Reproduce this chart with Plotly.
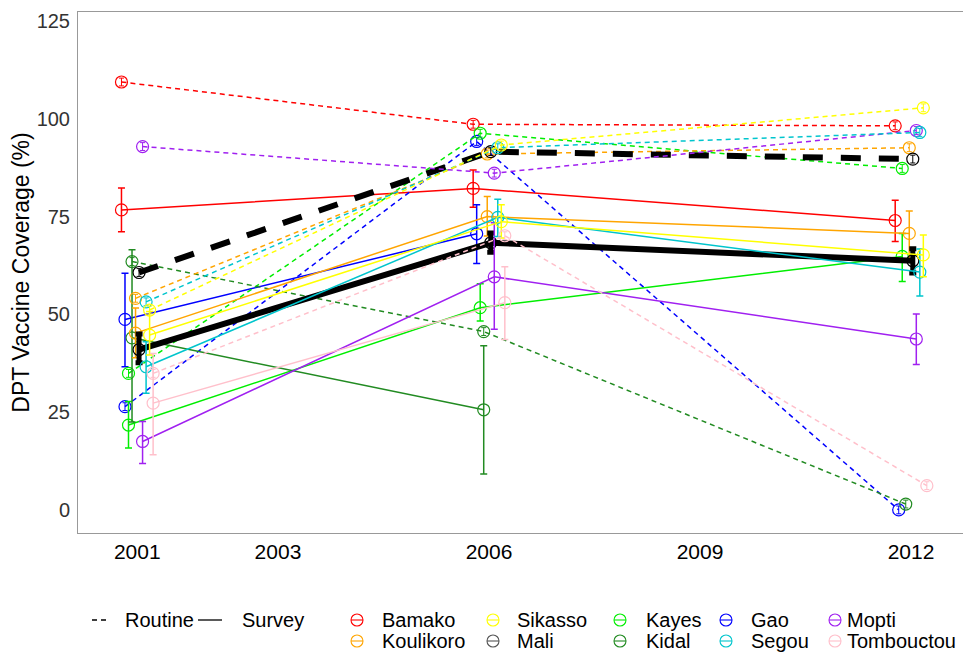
import plotly.graph_objects as go

# ---------------- data ----------------
years = [2001, 2006, 2012]
regions = ["Bamako", "Gao", "Kayes", "Kidal", "Koulikoro", "Mali",
           "Mopti", "Segou", "Sikasso", "Tombouctou"]          # dodge order
legend_order = ["Bamako", "Koulikoro", "Sikasso", "Mali", "Kayes",
                "Kidal", "Gao", "Segou", "Mopti", "Tombouctou"]

colors = {"Bamako": "#FF0000", "Gao": "#0000FF", "Kayes": "#00EE00",
          "Kidal": "#228B22", "Koulikoro": "#FFA500", "Mali": "#000000",
          "Mopti": "#A020F0", "Segou": "#00C5CD", "Sikasso": "#FFFF00",
          "Tombouctou": "#FFC0CB"}

# Routine coverage (2001, 2006, 2012)
routine_bamako = [109.4, 98.6, 98.2]
routine_gao = [26.4, 94.2, 0.0]
routine_kayes = [34.9, 96.3, 87.3]
routine_kidal = [63.5, 45.6, 1.5]
routine_koulikoro = [54.1, 91.0, 92.6]
routine_mali = [60.7, 91.6, 89.7]
routine_mopti = [92.9, 86.1, 97.0]
routine_segou = [53.2, 92.6, 96.5]
routine_sikasso = [51.1, 93.3, 102.8]
routine_tombouctou = [34.9, 70.1, 6.2]
routine_err = [1.0, 1.0, 1.0]

# Survey coverage with lower / upper bounds
survey_bamako = [76.7, 82.2, 74.0]
survey_bamako_lo = [71.1, 77.4, 68.6]
survey_bamako_hi = [82.3, 86.9, 79.2]
survey_gao = [48.7, 70.6, None]
survey_gao_lo = [36.6, 63.0, None]
survey_gao_hi = [60.5, 78.0, None]
survey_kayes = [21.7, 51.7, 64.8]
survey_kayes_lo = [15.8, 48.3, 58.4]
survey_kayes_hi = [27.7, 57.8, 70.7]
survey_kidal = [44.0, 25.6, None]
survey_kidal_lo = [22.5, 9.2, None]
survey_kidal_hi = [66.5, 42.0, None]
survey_koulikoro = [45.2, 75.0, 70.7]
survey_koulikoro_lo = [38.9, 70.0, 63.5]
survey_koulikoro_hi = [51.6, 80.1, 76.4]
survey_mali = [41.0, 68.3, 63.7]
survey_mali_lo = [37.6, 65.9, 60.6]
survey_mali_hi = [45.0, 70.8, 66.8]
survey_mopti = [17.5, 59.6, 43.7]
survey_mopti_lo = [11.9, 46.2, 37.2]
survey_mopti_hi = [22.6, 73.4, 50.1]
survey_segou = [36.6, 74.8, 60.8]
survey_segou_lo = [29.8, 69.9, 54.7]
survey_segou_hi = [43.0, 79.4, 66.7]
survey_sikasso = [44.7, 73.7, 65.2]
survey_sikasso_lo = [39.6, 69.5, 59.6]
survey_sikasso_hi = [50.7, 78.0, 70.3]
survey_tombouctou = [27.3, 53.0, None]
survey_tombouctou_lo = [14.1, 43.6, None]
survey_tombouctou_hi = [40.0, 62.2, None]

tick_years = [2001, 2003, 2006, 2009, 2012]
tick_labels = ["2001", "2003", "2006", "2009", "2012"]
y_ticks = [0, 25, 50, 75, 100, 125]

routine = {"Bamako": routine_bamako, "Gao": routine_gao, "Kayes": routine_kayes,
           "Kidal": routine_kidal, "Koulikoro": routine_koulikoro, "Mali": routine_mali,
           "Mopti": routine_mopti, "Segou": routine_segou, "Sikasso": routine_sikasso,
           "Tombouctou": routine_tombouctou}
survey = {"Bamako": (survey_bamako, survey_bamako_lo, survey_bamako_hi),
          "Gao": (survey_gao, survey_gao_lo, survey_gao_hi),
          "Kayes": (survey_kayes, survey_kayes_lo, survey_kayes_hi),
          "Kidal": (survey_kidal, survey_kidal_lo, survey_kidal_hi),
          "Koulikoro": (survey_koulikoro, survey_koulikoro_lo, survey_koulikoro_hi),
          "Mali": (survey_mali, survey_mali_lo, survey_mali_hi),
          "Mopti": (survey_mopti, survey_mopti_lo, survey_mopti_hi),
          "Segou": (survey_segou, survey_segou_lo, survey_segou_hi),
          "Sikasso": (survey_sikasso, survey_sikasso_lo, survey_sikasso_hi),
          "Tombouctou": (survey_tombouctou, survey_tombouctou_lo, survey_tombouctou_hi)}

# ---------------- figure ----------------
FONT = "Liberation Sans, Arial, Helvetica, sans-serif"
OFF = 8                      # page body margin
W, H = 971 - OFF, 661 - OFF
ML, MR, MT, MB = 78 - OFF, 3, 12 - OFF, 128
dodge = 0.05

fig = go.Figure()

for i, r in enumerate(regions):
    off = (i - (len(regions) - 1) / 2) * dodge
    xs = [y + off for y in years]
    c = colors[r]
    is_mali = r == "Mali"
    lw = 6 if is_mali else 1.5
    # routine (dashed)
    fig.add_trace(go.Scatter(
        x=xs, y=routine[r], mode="lines+markers",
        line=dict(color=c, width=lw, dash="20px,18px" if is_mali else "5px,4px"),
        marker=dict(symbol="circle-open", size=12, color=c, line=dict(width=1.2, color=c)),
        error_y=dict(type="data", array=routine_err, color=c, thickness=1, width=2.5),
        showlegend=False, hoverinfo="skip"))
    # survey (solid)
    v, lo, hi = survey[r]
    plus = [None if a is None else h - a for a, h in zip(v, hi)]
    minus = [None if a is None else a - l for a, l in zip(v, lo)]
    fig.add_trace(go.Scatter(
        x=xs, y=v, mode="lines+markers", connectgaps=False,
        line=dict(color=c, width=lw),
        marker=dict(symbol="circle-open", size=12, color=c, line=dict(width=1.2, color=c)),
        error_y=dict(type="data", symmetric=False, array=plus, arrayminus=minus,
                     color=c, thickness=5 if is_mali else 1.5, width=3.5),
        showlegend=False, hoverinfo="skip"))

# ---------------- custom legend ----------------
pw, ph = W - ML - MR, H - MT - MB


def px2x(px):
    return (px - OFF - ML) / pw


def py2y(py):
    return (H - MB - (py - OFF)) / ph


shapes = []
annotations = []
row_y = [620, 641]
# line-type keys
shapes.append(dict(type="line", xref="paper", yref="paper", x0=px2x(92), x1=px2x(108),
                   y0=py2y(row_y[0]), y1=py2y(row_y[0]),
                   line=dict(color="black", width=1.3, dash="5px,4px")))
annotations.append(dict(text="Routine", xref="paper", yref="paper", x=px2x(123), y=py2y(row_y[0]),
                        xanchor="left", yanchor="middle", showarrow=False,
                        font=dict(family=FONT, size=20, color="black")))
shapes.append(dict(type="line", xref="paper", yref="paper", x0=px2x(198), x1=px2x(222),
                   y0=py2y(row_y[0]), y1=py2y(row_y[0]),
                   line=dict(color="black", width=1.3)))
annotations.append(dict(text="Survey", xref="paper", yref="paper", x=px2x(240), y=py2y(row_y[0]),
                        xanchor="left", yanchor="middle", showarrow=False,
                        font=dict(family=FONT, size=20, color="black")))

col_sym = [357, 493, 620, 726, 835]
col_txt = [380, 515, 644, 749, 845]
for k, r in enumerate(legend_order):
    col, row = k // 2, k % 2
    cx, cy = px2x(col_sym[col]), py2y(row_y[row])
    c = colors[r] if r != "Mali" else "#555555"
    shapes.append(dict(type="circle", xref="paper", yref="paper",
                       xsizemode="pixel", ysizemode="pixel", xanchor=cx, yanchor=cy,
                       x0=-6, x1=6, y0=-6, y1=6, line=dict(color=c, width=1.1)))
    shapes.append(dict(type="line", xref="paper", yref="paper",
                       xsizemode="pixel", ysizemode="pixel", xanchor=cx, yanchor=cy,
                       x0=-6, x1=6, y0=0, y1=0, line=dict(color=c, width=1.1)))
    annotations.append(dict(text=r, xref="paper", yref="paper", x=px2x(col_txt[col]), y=cy,
                            xanchor="left", yanchor="middle", showarrow=False,
                            font=dict(family=FONT, size=20, color="black")))

fig.update_layout(
    width=W, height=H,
    margin=dict(l=ML, r=MR, t=MT, b=MB, autoexpand=False),
    paper_bgcolor="white", plot_bgcolor="white",
    font=dict(family=FONT, size=20, color="black"),
    showlegend=False,
    shapes=shapes, annotations=annotations,
    xaxis=dict(range=[2000.157, 2012.81], tickvals=tick_years, ticktext=tick_labels,
               showgrid=False, zeroline=False, showline=True, mirror=True,
               linecolor="#999999", linewidth=1, ticks="", ticklabelstandoff=0,
               tickfont=dict(family=FONT, size=21, color="black")),
    yaxis=dict(range=[-5.9, 127.3], tickvals=y_ticks,
               showgrid=False, zeroline=False, showline=True, mirror=True,
               linecolor="#999999", linewidth=1, ticks="", ticklabelstandoff=3,
               tickfont=dict(family=FONT, size=20, color="#333333"),
               title=dict(text="DPT Vaccine Coverage (%)", standoff=10,
                          font=dict(family=FONT, size=23, color="black"))),
)

fig.write_html("out.html")
